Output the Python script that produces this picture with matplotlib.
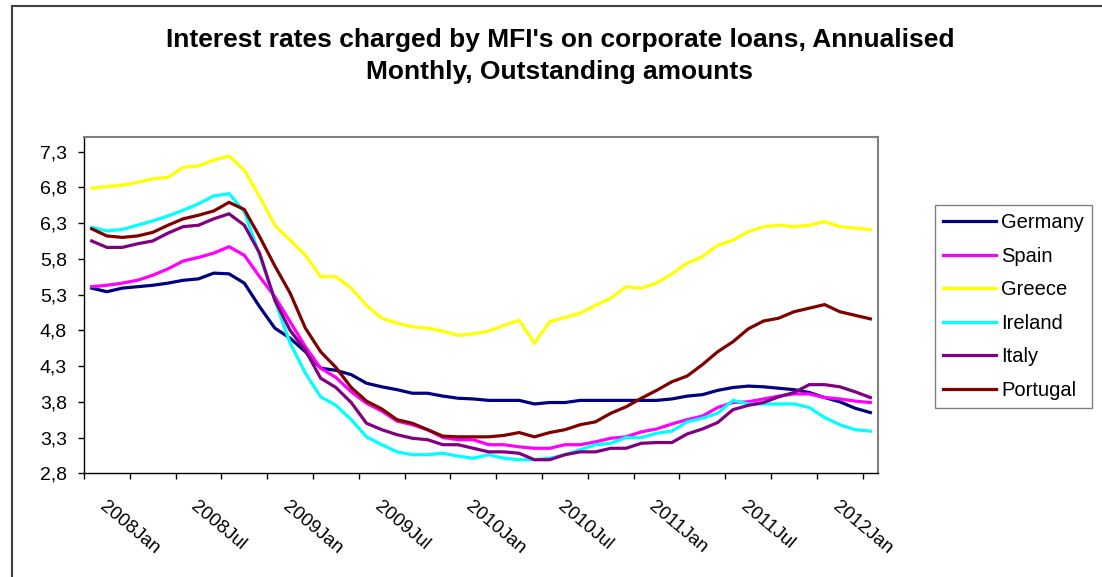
import numpy as np
import matplotlib
matplotlib.use("Agg")
from matplotlib import pyplot as plt
from matplotlib.patches import Rectangle

plt.rcParams["font.family"] = ["Liberation Sans", "DejaVu Sans"]

# monthly values, 2008Jan .. 2012Apr
germany = [5.39, 5.34, 5.39, 5.41, 5.43, 5.46, 5.50, 5.52, 5.60, 5.59, 5.46, 5.13, 4.83,
           4.69, 4.50, 4.27, 4.24, 4.18, 4.06, 4.01, 3.97, 3.92, 3.92, 3.88, 3.85, 3.84,
           3.82, 3.82, 3.82, 3.77, 3.79, 3.79, 3.82, 3.82, 3.82, 3.82, 3.82, 3.82, 3.84,
           3.88, 3.90, 3.96, 4.00, 4.02, 4.01, 3.99, 3.97, 3.93, 3.86, 3.80, 3.71, 3.65]
spain = [5.41, 5.43, 5.46, 5.50, 5.57, 5.66, 5.77, 5.82, 5.88, 5.97, 5.85, 5.55, 5.27,
         4.92, 4.57, 4.27, 4.14, 3.94, 3.78, 3.67, 3.53, 3.48, 3.41, 3.30, 3.27, 3.27,
         3.20, 3.20, 3.17, 3.15, 3.15, 3.20, 3.20, 3.24, 3.29, 3.31, 3.38, 3.42, 3.49,
         3.55, 3.60, 3.72, 3.79, 3.80, 3.84, 3.88, 3.91, 3.91, 3.86, 3.84, 3.81, 3.79]
greece = [6.79, 6.81, 6.83, 6.87, 6.92, 6.94, 7.08, 7.10, 7.18, 7.24, 7.04, 6.67, 6.27,
          6.06, 5.85, 5.55, 5.55, 5.39, 5.15, 4.97, 4.90, 4.85, 4.83, 4.79, 4.73, 4.75,
          4.79, 4.87, 4.94, 4.62, 4.92, 4.98, 5.04, 5.15, 5.25, 5.41, 5.39, 5.46, 5.59,
          5.74, 5.83, 5.99, 6.06, 6.18, 6.25, 6.27, 6.25, 6.27, 6.32, 6.25, 6.23, 6.21]
ireland = [6.24, 6.19, 6.21, 6.27, 6.33, 6.40, 6.48, 6.57, 6.68, 6.71, 6.46, 5.85, 5.22,
           4.62, 4.20, 3.87, 3.75, 3.55, 3.31, 3.20, 3.10, 3.06, 3.06, 3.08, 3.04, 3.01,
           3.06, 3.01, 2.99, 2.99, 3.01, 3.06, 3.13, 3.20, 3.22, 3.30, 3.30, 3.36, 3.39,
           3.52, 3.57, 3.64, 3.82, 3.77, 3.77, 3.77, 3.77, 3.72, 3.58, 3.48, 3.41, 3.39]
italy = [6.05, 5.96, 5.96, 6.01, 6.05, 6.16, 6.25, 6.27, 6.36, 6.43, 6.27, 5.88, 5.22,
         4.80, 4.52, 4.13, 4.00, 3.79, 3.50, 3.41, 3.34, 3.29, 3.27, 3.20, 3.20, 3.15,
         3.10, 3.10, 3.08, 2.99, 2.99, 3.06, 3.10, 3.10, 3.15, 3.15, 3.22, 3.23, 3.23,
         3.35, 3.42, 3.51, 3.69, 3.75, 3.79, 3.87, 3.93, 4.04, 4.04, 4.01, 3.94, 3.86]
portugal = [6.22, 6.12, 6.10, 6.12, 6.17, 6.27, 6.36, 6.41, 6.47, 6.59, 6.49, 6.11, 5.70,
            5.32, 4.83, 4.50, 4.28, 4.00, 3.81, 3.70, 3.55, 3.50, 3.41, 3.32, 3.31, 3.31,
            3.31, 3.33, 3.37, 3.31, 3.37, 3.41, 3.48, 3.52, 3.64, 3.73, 3.85, 3.96, 4.08,
            4.16, 4.32, 4.50, 4.64, 4.82, 4.93, 4.97, 5.06, 5.11, 5.16, 5.06, 5.01, 4.96]

countries = ["Germany", "Spain", "Greece", "Ireland", "Italy", "Portugal"]
colors = ["#000080", "#FF00FF", "#FFFF00", "#00FFFF", "#800080", "#800000"]
date_labels = ["2008Jan", "2008Jul", "2009Jan", "2009Jul", "2010Jan",
               "2010Jul", "2011Jan", "2011Jul", "2012Jan"]
y_ticks = [2.8, 3.3, 3.8, 4.3, 4.8, 5.3, 5.8, 6.3, 6.8, 7.3]

W, H = 1102, 577
fig = plt.figure(figsize=(W / 100, H / 100), dpi=100)
fig.patch.set_facecolor("white")
fig.add_artist(Rectangle((12 / W, -0.1), 1.2, 1.1 - 6 / H, transform=fig.transFigure,
                         fill=False, edgecolor="#404040", lw=1.5))

ax = fig.add_axes([84 / W, 1 - 473.3 / H, (878 - 84) / W, (473.3 - 137.3) / H])

x = np.arange(len(germany))
for name, vals, c in zip(countries, [germany, spain, greece, ireland, italy, portugal], colors):
    ax.plot(x, vals, color=c, lw=2.3, label=name, solid_joinstyle="miter")

ax.set_xlim(-0.5, len(germany) - 0.5)
ax.set_ylim(2.8, 7.5)

ax.set_yticks(y_ticks)
ax.set_yticklabels([f"{v:.1f}".replace(".", ",") for v in y_ticks])
ax.tick_params(axis="y", direction="out", length=4.3, width=1, pad=8, labelsize=14)

ax.set_xticks(np.arange(-0.5, len(germany) - 1, 3))
ax.set_xticklabels([])
ax.tick_params(axis="x", which="major", direction="out", length=4, width=1)
# labels every 6 months, nudged a little right like the excel layout
ax.set_xticks(np.arange(0, 49, 6) + 0.3, date_labels, minor=True, rotation=-40, ha="left", va="top")
ax.tick_params(axis="x", which="minor", length=0, pad=18, labelsize=13.5)

for s in ["left", "bottom"]:
    ax.spines[s].set_color("black")
    ax.spines[s].set_linewidth(1)
for s in ["top", "right"]:
    ax.spines[s].set_color("#808080")
    ax.spines[s].set_linewidth(1.5)

ax.legend(loc="upper left", bbox_to_anchor=(935 / W, 1 - 205 / H), bbox_transform=fig.transFigure,
          borderaxespad=0, fancybox=False, edgecolor="#808080", framealpha=1,
          fontsize=14.5, handlelength=2.65, handletextpad=0.25, labelspacing=0.72, borderpad=0.4)

fig.text(560 / W, 1 - 40 / H, "Interest rates charged by MFI's on corporate loans, Annualised",
         ha="center", va="center", fontsize=19, fontweight="bold")
fig.text(560 / W, 1 - 72 / H, "Monthly, Outstanding amounts",
         ha="center", va="center", fontsize=19, fontweight="bold")

fig.savefig("out.png", dpi=100)
